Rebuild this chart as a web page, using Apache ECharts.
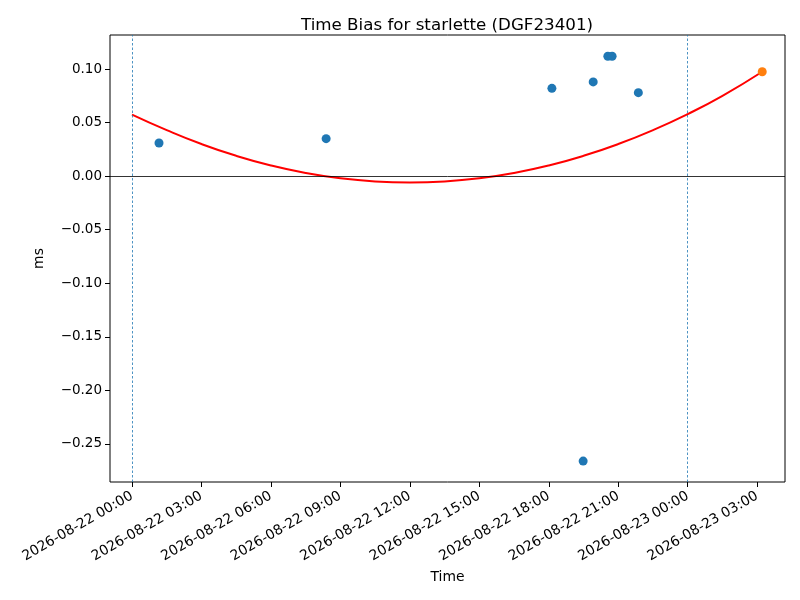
<!DOCTYPE html>
<html>
<head>
<meta charset="UTF-8" />
<title>Time Bias</title>
<style>html,body{margin:0;padding:0;background:#fff;}</style>
</head>
<body>
<div id="container" style="width:800px;height:600px"></div>
<script src="https://cdn.jsdelivr.net/npm/echarts@6/dist/echarts.min.js"></script>
<script type="text/javascript">
// measured points (time, ms)
var biasTimes = ['2026-08-22 01:10', '2026-08-22 08:23', '2026-08-22 18:08', '2026-08-22 19:29',
                 '2026-08-22 19:55', '2026-08-22 20:33', '2026-08-22 20:44', '2026-08-22 21:52'];
var biasValues = [0.031, 0.035, 0.082, -0.266, 0.088, 0.112, 0.112, 0.078];

// last point (orange)
var lastTime = '2026-08-23 03:13';
var lastValue = 0.0975;

// red fit curve
var fitTimes = ['2026-08-22 00:00', '2026-08-22 01:30', '2026-08-22 03:00', '2026-08-22 04:30',
                '2026-08-22 06:00', '2026-08-22 07:30', '2026-08-22 09:00', '2026-08-22 10:30',
                '2026-08-22 12:00', '2026-08-22 13:30', '2026-08-22 15:00', '2026-08-22 16:30',
                '2026-08-22 18:00', '2026-08-22 19:30', '2026-08-22 21:00', '2026-08-22 22:30',
                '2026-08-23 00:00', '2026-08-23 01:30', '2026-08-23 03:13'];
var fitValues = [0.0575, 0.043, 0.030, 0.019, 0.010, 0.003, -0.002, -0.005, -0.006, -0.005,
                 -0.002, 0.003, 0.010, 0.019, 0.030, 0.043, 0.058, 0.075, 0.0975];

// vertical day markers
var dayLines = ['2026-08-22 00:00', '2026-08-23 00:00'];

// tick labels
var xTicks = ['2026-08-22 00:00', '2026-08-22 03:00', '2026-08-22 06:00', '2026-08-22 09:00',
              '2026-08-22 12:00', '2026-08-22 15:00', '2026-08-22 18:00', '2026-08-22 21:00',
              '2026-08-23 00:00', '2026-08-23 03:00'];
var yTicks = [-0.25, -0.20, -0.15, -0.10, -0.05, 0.00, 0.05, 0.10];

var xMinTime = '2026-08-21 23:03';
var xMaxTime = '2026-08-23 04:12';

function toMs(s) {
    var p = s.split(/[- :]/);
    return Date.UTC(+p[0], +p[1] - 1, +p[2], +p[3], +p[4]);
}
function pad(n) { return (n < 10 ? '0' : '') + n; }
function fmtTime(v) {
    var d = new Date(v);
    return d.getUTCFullYear() + '-' + pad(d.getUTCMonth() + 1) + '-' + pad(d.getUTCDate()) +
        ' ' + pad(d.getUTCHours()) + ':' + pad(d.getUTCMinutes());
}

var scatterData = biasTimes.map(function (t, i) { return [toMs(t), biasValues[i]]; });
var fitData = fitTimes.map(function (t, i) { return [toMs(t), fitValues[i]]; });
var xTickMs = xTicks.map(toMs);

var font = 'DejaVu Sans';
var myChart = echarts.init(document.getElementById('container'));
var option = {
    animation: false,
    textStyle: { fontFamily: font },
    title: {
        text: 'Time Bias for starlette (DGF23401)',
        left: 442, top: 12, textAlign: 'center',
        textStyle: { fontFamily: font, fontSize: 16.7, fontWeight: 'normal', color: '#000' }
    },
    grid: { left: 110, right: 15, top: 35, bottom: 118, show: true, borderColor: '#000', borderWidth: 1 },
    xAxis: {
        type: 'value',
        min: toMs(xMinTime), max: toMs(xMaxTime),
        name: 'Time', nameLocation: 'middle', nameGap: 88,
        nameTextStyle: { fontFamily: font, fontSize: 13.9, color: '#000' },
        splitLine: { show: false },
        axisLine: { show: false, onZero: false },
        axisTick: { show: true, length: 5, customValues: xTickMs, lineStyle: { color: '#000' } },
        axisLabel: {
            rotate: 30, margin: 13, fontFamily: font, fontSize: 13.9, color: '#000',
            customValues: xTickMs,
            formatter: function (v) { return fmtTime(v); }
        }
    },
    yAxis: {
        type: 'value',
        min: -0.2855, max: 0.1318,
        name: 'ms', nameLocation: 'middle', nameGap: 64,
        nameTextStyle: { fontFamily: font, fontSize: 13.9, color: '#000' },
        splitLine: { show: false },
        axisLine: { show: false, onZero: false },
        axisTick: { show: true, length: 5, customValues: yTicks, lineStyle: { color: '#000' } },
        axisLabel: {
            margin: 8, fontFamily: font, fontSize: 13.5, color: '#000',
            customValues: yTicks,
            formatter: function (v) {
                return (v < -1e-9 ? '\u2212' : '') + Math.abs(v).toFixed(2);
            }
        }
    },
    series: [
        {
            type: 'line',
            data: fitData,
            smooth: true,
            showSymbol: false,
            lineStyle: { color: 'red', width: 2 },
            z: 2,
            markLine: {
                silent: true, symbol: 'none', label: { show: false },
                data: [
                    { yAxis: 0, lineStyle: { color: '#000', width: 0.8, type: 'solid' } },
                    { xAxis: toMs(dayLines[0]), lineStyle: { color: '#1f77b4', width: 0.8, type: [2.5, 2] } },
                    { xAxis: toMs(dayLines[1]), lineStyle: { color: '#1f77b4', width: 0.8, type: [2.5, 2] } }
                ]
            }
        },
        {
            type: 'scatter',
            data: scatterData,
            symbolSize: 9,
            itemStyle: { color: '#1f77b4', opacity: 1 },
            z: 3
        },
        {
            type: 'scatter',
            data: [[toMs(lastTime), lastValue]],
            symbolSize: 9,
            itemStyle: { color: '#ff7f0e', opacity: 1 },
            z: 4
        }
    ]
};
myChart.setOption(option, true);
</script>
</body>
</html>
